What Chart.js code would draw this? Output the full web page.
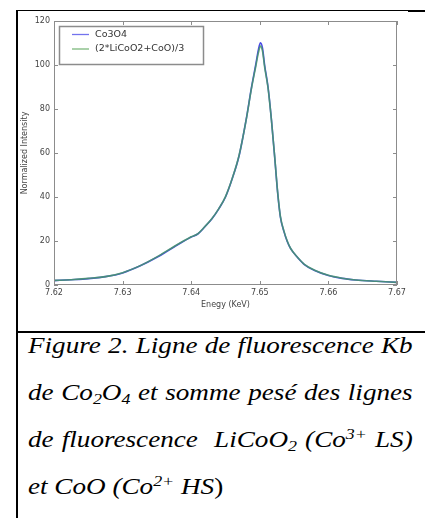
<!DOCTYPE html>
<html>
<head>
<meta charset="utf-8">
<script src="https://cdn.jsdelivr.net/npm/chart.js@4/dist/chart.umd.min.js"></script>
<style>
  html, body { margin: 0; padding: 0; background: #fff; }
  body { width: 425px; height: 518px; position: relative; overflow: hidden; }
  #plot { position: absolute; left: 0; top: 0; }
  .rule { position: absolute; background: #000; z-index: 2; }
  .cap {
    position: absolute; left: 28px; width: 326px; height: 46px; line-height: 46px;
    font: italic 23px "Liberation Serif", "Times New Roman", serif; color: #000;
    white-space: nowrap; transform: scaleX(1.18); transform-origin: 0 0;
  }
  .just { text-align: justify; text-align-last: justify; }
  .cap sub, .cap sup { font-size: 0.66em; line-height: 0; position: relative; vertical-align: baseline; }
  .cap sub { top: 0.28em; }
  .cap sup { top: -0.5em; }
</style>
</head>
<body>
<canvas id="plot" width="425" height="330"></canvas>

<div class="rule" style="left:16px; top:10px; width:2px; height:508px;"></div>
<div class="rule" style="left:16px; top:10px; width:393px; height:1px;"></div>
<div class="rule" style="left:408px; top:10px; width:17px; height:2px;"></div>
<div class="rule" style="left:16px; top:331px; width:409px; height:2px;"></div>

<div class="cap just" style="top:333px;">Figure 2. Ligne de fluorescence Kb</div>
<div class="cap just" style="top:380px;">de Co<sub>2</sub>O<sub>4</sub> et somme pesé des lignes</div>
<div class="cap just" style="top:427px;">de fluorescence &nbsp;LiCoO<sub>2</sub> (Co<sup>3+</sup> LS)</div>
<div class="cap" style="top:474px;">et CoO (Co<sup>2+</sup> HS<span style="font-style:normal">)</span></div>

<script>
"use strict";

// energie (keV) des points
const energyKeV = [
    7.620, 7.6225, 7.625, 7.6275, 7.630, 7.6325, 7.635, 7.6375, 7.640, 7.641,
    7.642, 7.643, 7.644, 7.645, 7.646, 7.647, 7.648, 7.6488, 7.6494, 7.6498,
    7.6501, 7.6504, 7.6507, 7.6512, 7.6517, 7.6522, 7.6526, 7.6530, 7.6535, 7.6540,
    7.6545, 7.6555, 7.6565, 7.658, 7.660, 7.662, 7.664, 7.667, 7.670
];

// Co3O4 mesure
const co3o4 = [
    2.0, 2.4, 2.9, 3.8, 5.5, 8.6, 12.6, 17.3, 21.8, 23.3,
    26.5, 30.0, 34.5, 40.0, 48.5, 59.0, 75.0, 90.0, 100.0, 107.0,
    110.1, 107.5, 100.0, 90.0, 75.0, 57.0, 42.0, 31.0, 24.5, 19.8,
    16.5, 12.5, 9.3, 6.6, 4.3, 3.0, 2.3, 1.7, 1.2
];

// somme ponderee (2*LiCoO2+CoO)/3
const mixSum = [
    2.1, 2.4, 3.0, 3.8, 5.6, 8.7, 12.8, 17.5, 21.9, 23.4,
    26.6, 30.1, 34.6, 40.2, 48.6, 59.2, 74.8, 89.6, 99.2, 105.6,
    108.6, 106.2, 99.2, 89.6, 74.8, 57.2, 42.3, 31.2, 24.7, 20.0,
    16.6, 12.6, 9.4, 6.7, 4.4, 3.1, 2.3, 1.7, 1.2
];

const xTicks = { min: 7.62, max: 7.67, step: 0.01 };
const yTicks = { min: 0, max: 120, step: 20 };

const seriesLabels = ['Co3O4', '(2*LiCoO2+CoO)/3'];
const legendColors = ['#7373ee', '#7cb87c'];

const tickFont = { family: 'DejaVu Sans', size: 8 };

function points(ys) {
    return energyKeV.map((e, i) => ({ x: e, y: ys[i] }));
}

// cadre + graduations interieures (style matplotlib)
const frameTicks = {
    id: 'frameTicks',
    afterDatasetsDraw(chart) {
        const { ctx, chartArea: a, scales } = chart;
        ctx.save();
        ctx.strokeStyle = '#8c8c8c';
        ctx.lineWidth = 1;
        ctx.strokeRect(a.left + 0.5, a.top + 0.5, a.right - a.left - 1, a.bottom - a.top - 1);
        const len = 4;
        ctx.beginPath();
        scales.x.ticks.forEach(t => {
            const px = Math.round(scales.x.getPixelForValue(t.value)) + 0.5;
            ctx.moveTo(px, a.bottom); ctx.lineTo(px, a.bottom - len);
            ctx.moveTo(px, a.top); ctx.lineTo(px, a.top + len);
        });
        scales.y.ticks.forEach(t => {
            const py = Math.round(scales.y.getPixelForValue(t.value)) + 0.5;
            ctx.moveTo(a.left, py); ctx.lineTo(a.left + len, py);
            ctx.moveTo(a.right, py); ctx.lineTo(a.right - len, py);
        });
        ctx.stroke();
        ctx.restore();
    },
    afterDraw(chart) {
        // legende dans le coin haut gauche
        const { ctx, chartArea: a } = chart;
        const x0 = a.left + 5, y0 = a.top + 5, w = 144, h = 38;
        ctx.save();
        ctx.fillStyle = '#fff';
        ctx.fillRect(x0, y0, w, h);
        ctx.strokeStyle = '#8c8c8c';
        ctx.lineWidth = 1.5;
        ctx.strokeRect(x0 + 0.5, y0 + 0.5, w, h);
        ctx.font = '9.5px "DejaVu Sans"';
        ctx.textBaseline = 'middle';
        chart.data.datasets.forEach((ds, i) => {
            const yy = y0 + 8.5 + i * 14.5;
            ctx.strokeStyle = legendColors[i];
            ctx.lineWidth = 1.3;
            ctx.beginPath();
            ctx.moveTo(x0 + 13, yy); ctx.lineTo(x0 + 30, yy);
            ctx.stroke();
            ctx.fillStyle = '#333';
            ctx.fillText(ds.label, x0 + 36, yy);
        });
        ctx.restore();
    }
};

new Chart(document.getElementById('plot'), {
    type: 'line',
    data: {
        datasets: [
            {
                label: seriesLabels[0],
                data: points(co3o4),
                borderColor: '#4a4ae6',
                borderWidth: 1.6,
                pointRadius: 0,
                cubicInterpolationMode: 'monotone',
                fill: false,
                order: 1
            },
            {
                label: seriesLabels[1],
                data: points(mixSum),
                borderColor: 'rgba(70,150,105,0.85)',
                borderWidth: 1.6,
                pointRadius: 0,
                cubicInterpolationMode: 'monotone',
                fill: false,
                order: 0
            }
        ]
    },
    options: {
        responsive: false,
        animation: false,
        devicePixelRatio: 1,
        layout: { padding: { left: 18, top: 21, right: 28, bottom: 0 } },
        plugins: { legend: { display: false }, tooltip: { enabled: false } },
        scales: {
            x: {
                type: 'linear',
                min: xTicks.min,
                max: xTicks.max,
                grid: { display: false, drawTicks: false },
                border: { display: false },
                afterFit(s) { s.height = 45; },
                ticks: {
                    stepSize: xTicks.step,
                    autoSkip: false,
                    maxRotation: 0,
                    padding: 3,
                    color: '#444',
                    font: tickFont,
                    callback: v => Number(v).toFixed(2)
                },
                title: {
                    display: true,
                    text: 'Enegy (KeV)',
                    color: '#444',
                    font: tickFont,
                    padding: { top: 0, bottom: 20 }
                }
            },
            y: {
                min: yTicks.min,
                max: yTicks.max,
                grid: { display: false, drawTicks: false },
                border: { display: false },
                afterFit(s) { s.width = 36; },
                ticks: {
                    stepSize: yTicks.step,
                    padding: 4,
                    color: '#444',
                    font: tickFont
                },
                title: {
                    display: true,
                    text: 'Normalized Intensity',
                    color: '#444',
                    font: tickFont,
                    padding: { top: 2, bottom: 0 }
                }
            }
        }
    },
    plugins: [frameTicks]
});
</script>
</body>
</html>
